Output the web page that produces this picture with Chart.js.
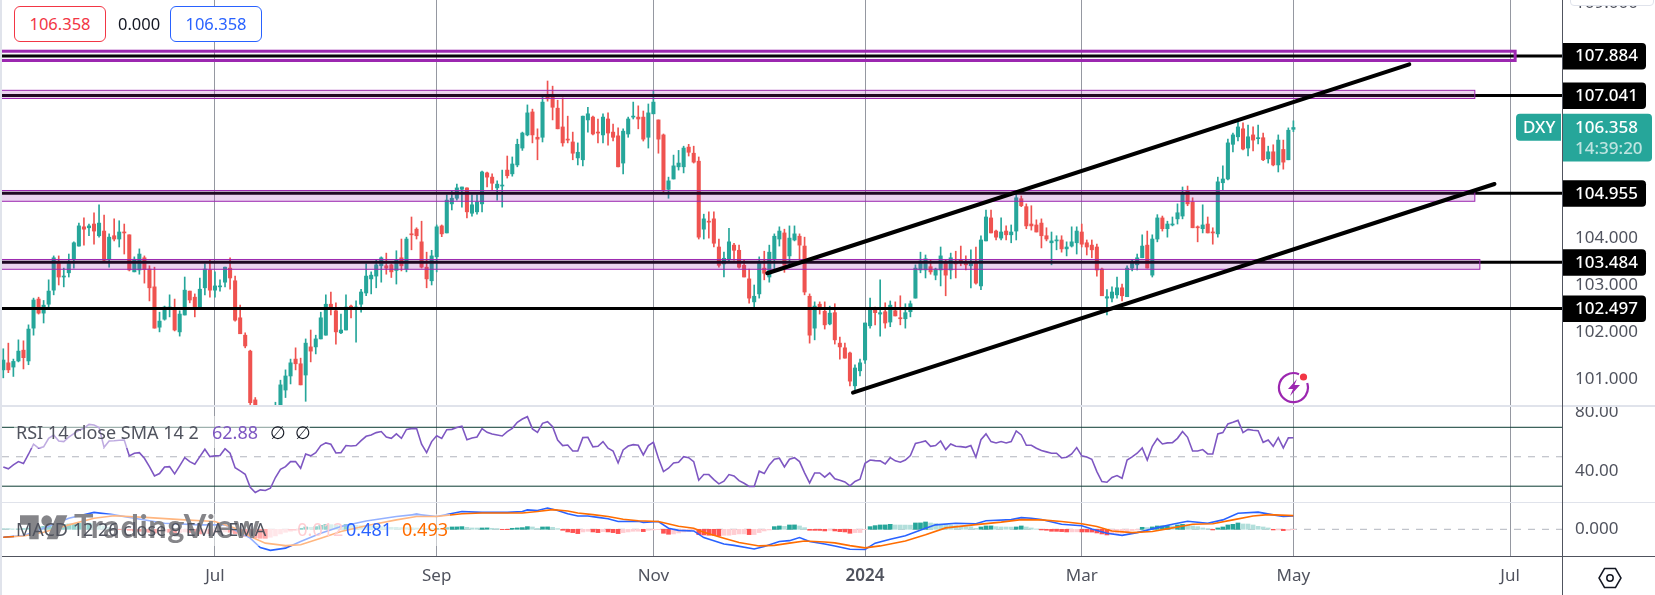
<!DOCTYPE html>
<html>
<head>
<meta charset="utf-8">
<script src="https://cdn.jsdelivr.net/npm/chart.js@4"></script>
<style>
  html, body { margin: 0; padding: 0; background: #fff; overflow: hidden; }
  body { width: 1655px; height: 595px; position: relative; font-family: "Noto Sans", sans-serif; }
  canvas { position: absolute; left: 0; }
  .abs { position: absolute; white-space: nowrap; }
  .pill { box-sizing: border-box; height: 36px; width: 92px; top: 6px; border: 1px solid; border-radius: 6px;
          font-size: 16.5px; line-height: 34px; text-align: center; background: #fff; }
  .legend { font-size: 18px; line-height: 24px; color: #50535e; }
</style>
</head>
<body>
<canvas id="macdChart" style="top:497px"></canvas>
<canvas id="rsiChart" style="top:400px"></canvas>
<canvas id="priceChart" style="top:0"></canvas>

<div class="abs" style="left:0;top:0;width:2px;height:595px;background:#e0e3eb"></div>
<div class="abs" style="left:0;top:405px;width:1655px;height:2px;background:#e0e3eb"></div>
<div class="abs" style="left:0;top:502px;width:1655px;height:1px;background:#e0e3eb"></div>
<div class="abs" style="left:2px;top:556px;width:1653px;height:1px;background:#50535e"></div>
<div class="abs" style="left:1562px;top:0;width:1px;height:595px;background:#50535e"></div>

<!-- header pills -->
<div class="abs pill" style="left:14px;color:#f23645;border-color:#f23645">106.358</div>
<div class="abs" style="left:118px;top:12px;font-size:16.5px;line-height:24px;color:#131722">0.000</div>
<div class="abs pill" style="left:170px;color:#2962ff;border-color:#2962ff">106.358</div>

<!-- cut off price label box, top right -->
<div class="abs" style="left:1570px;top:-6px;width:82px;height:10px;background:#fff;border:1px solid #e0e3eb;border-radius:4px"></div>

<!-- alert icon -->
<svg class="abs" style="left:1277px;top:370px" width="34" height="34" viewBox="0 0 34 34">
  <path d="M22 4.2A14.5 14.5 0 1 0 30.2 13" fill="none" stroke="#9c27b0" stroke-width="2.2"/>
  <path d="M20 9 L11 19 L16 19 L13 26 L23 15 L17.5 15 Z" fill="#9c27b0"/>
  <circle cx="26.5" cy="7" r="3.6" fill="#f23645"/>
</svg>

<!-- settings icon -->
<svg class="abs" style="left:1598px;top:567px" width="24" height="22" viewBox="0 0 24 22">
  <path d="M6.5 1.5H17.5L23 11L17.5 20.5H6.5L1 11Z" fill="none" stroke="#131722" stroke-width="1.5"/>
  <circle cx="12" cy="11" r="3.2" fill="none" stroke="#131722" stroke-width="1.5"/>
</svg>

<!-- fade behind the pane legends -->
<div class="abs" style="left:14px;top:416px;width:296px;height:32px;background:rgba(255,255,255,.5)"></div>
<div class="abs" style="left:14px;top:514px;width:436px;height:32px;background:rgba(255,255,255,.5)"></div>

<!-- watermark -->
<svg class="abs" style="left:20px;top:510px" width="48" height="36" viewBox="0 0 36 27">
  <path d="M14 22H7V11H0V4h14v18z M28 22h-8l7.5-18h8L28 22z" fill="#858589"/>
  <circle cx="20" cy="8" r="4" fill="#858589"/>
</svg>
<div class="abs" style="left:74px;top:504px;font:700 32.5px/44px Lato,sans-serif;color:#858589;letter-spacing:.6px">TradingView</div>

<!-- pane legends -->
<div class="abs legend" style="left:16px;top:420px">RSI 14 close SMA 14 2</div>
<div class="abs legend" style="left:212px;top:420px;color:#7e57c2">62.88</div>
<div class="abs legend" style="left:270px;top:420px;color:#131722">∅&nbsp;&nbsp;∅</div>
<div class="abs legend" style="left:16px;top:517px">MACD 12 26 close 9 EMA EMA</div>
<div class="abs legend" style="left:287px;top:517px;color:#ffcdd2">−0.012</div>
<div class="abs legend" style="left:346px;top:517px;color:#2962ff">0.481</div>
<div class="abs legend" style="left:402px;top:517px;color:#ff6d00">0.493</div>

<script>
// candles
const opens = [101.19,101.34,101.25,101.38,101.61,101.38,102.08,102.70,102.40,102.59,
  102.89,103.46,103.17,103.26,103.55,103.83,104.24,104.22,104.30,104.05,
  104.15,103.55,104.05,103.98,104.13,104.07,103.28,103.32,103.58,103.34,
  102.96,102.10,102.27,102.51,102.51,102.00,102.36,102.87,102.74,102.51,
  102.94,103.32,102.89,102.96,103.06,103.36,103.09,102.30,101.93,101.59,
  100.55,100.15,100.10,100.25,100.20,100.42,100.76,101.06,101.42,101.32,
  101.08,101.68,101.68,101.85,101.93,102.59,102.45,101.98,102.04,102.55,
  102.51,102.59,102.83,103.13,103.19,103.41,103.41,103.43,103.31,103.58,
  103.34,104.09,104.19,103.92,103.38,103.09,103.60,104.26,104.11,104.73,
  104.85,105.04,105.07,104.53,104.56,104.73,105.39,105.30,105.07,105.11,
  105.45,105.37,105.56,105.92,106.20,106.69,106.15,106.15,107.01,107.01,
  106.77,106.37,106.11,106.05,105.71,105.67,106.52,106.58,106.26,106.20,
  106.54,106.26,106.18,105.60,106.22,106.58,106.58,106.58,106.15,106.65,
  106.52,106.20,105.04,105.26,105.52,105.52,105.94,105.81,105.64,104.19,
  104.36,104.41,103.81,103.45,103.55,103.85,103.74,103.42,103.13,102.64,
  102.81,103.36,103.17,103.55,103.98,104.11,103.62,103.96,104.04,103.83,
  102.76,102.08,102.59,102.44,102.17,102.41,101.76,101.66,101.55,100.85,
  101.17,101.40,102.13,102.47,102.38,102.43,102.21,102.45,102.30,102.28,
  102.43,102.72,103.32,103.32,103.39,103.21,103.32,103.47,103.32,103.47,
  103.53,103.47,103.41,103.47,102.98,103.94,104.43,104.15,104.00,104.15,
  104.07,104.15,104.84,104.67,104.30,104.28,104.32,104.05,103.90,103.94,
  103.96,103.77,103.83,103.90,104.13,103.90,103.85,103.81,103.34,102.72,
  102.72,102.79,102.94,102.75,103.36,103.43,103.58,103.85,103.21,103.98,
  104.43,104.20,104.28,104.41,104.47,105.00,104.77,104.24,104.20,104.30,
  104.13,104.09,105.18,105.26,106.00,106.16,106.33,105.92,106.20,106.12,
  106.14,105.69,105.84,105.56,105.89,105.67,106.32];
const highs = [101.64,101.76,101.42,101.83,101.81,102.15,102.72,102.74,102.67,103.11,
  103.62,103.62,103.36,103.66,103.92,104.32,104.43,104.30,104.54,104.71,
  104.49,104.09,104.41,104.37,104.30,104.07,103.60,103.77,103.62,103.41,
  103.38,102.42,102.55,102.79,102.70,102.45,103.17,102.87,102.81,103.15,
  103.45,103.53,103.28,103.11,103.38,103.58,103.19,102.57,101.98,101.61,
  100.60,100.30,100.35,100.40,100.50,100.97,101.19,101.42,101.66,101.44,
  101.85,102.04,101.93,102.42,102.79,102.85,102.62,102.38,102.79,102.57,
  102.66,102.91,103.45,103.28,103.53,103.60,103.68,103.45,103.73,103.98,
  104.02,104.45,104.22,104.36,103.70,103.74,104.28,104.28,104.92,105.00,
  105.15,105.09,105.07,104.92,104.92,105.43,105.41,105.37,105.22,105.45,
  105.75,105.73,106.11,106.26,106.84,106.75,106.33,107.01,107.35,107.24,
  106.94,106.99,106.60,106.26,106.03,106.60,106.79,106.60,106.54,106.65,
  106.67,106.43,106.35,106.33,106.58,106.90,106.82,106.71,106.86,107.14,
  106.52,106.22,105.30,105.77,105.87,105.96,106.00,105.96,105.73,104.51,
  104.56,104.56,103.98,103.70,104.21,103.89,103.85,103.53,103.34,103.00,
  103.60,103.72,103.85,104.09,104.24,104.19,104.26,104.26,104.09,104.02,
  102.81,102.64,102.64,102.64,102.55,102.60,101.89,101.76,101.57,101.30,
  101.42,102.19,102.72,102.53,103.11,102.62,102.66,102.64,102.77,102.60,
  102.66,103.43,103.70,103.64,103.53,103.36,103.81,103.53,103.68,103.72,
  103.83,103.62,103.75,103.81,104.05,104.60,104.60,104.17,104.43,104.26,
  104.28,104.94,104.90,104.73,104.69,104.39,104.41,104.22,104.13,104.05,
  104.05,103.92,104.24,104.24,104.30,103.96,103.96,103.87,103.36,102.90,
  102.96,103.17,103.02,103.41,103.53,103.66,104.07,104.15,104.07,104.50,
  104.47,104.36,104.45,104.73,105.09,105.11,104.86,104.26,104.71,104.45,
  104.22,105.30,105.54,106.11,106.24,106.47,106.46,106.41,106.37,106.41,
  106.24,105.96,105.99,106.20,106.09,106.35,106.50];
const lows = [101.02,101.13,101.05,101.36,101.21,101.30,101.93,102.38,102.19,102.53,
  102.79,103.00,102.96,103.17,103.36,103.83,103.85,104.05,103.87,104.02,
  103.51,103.38,103.94,103.81,103.66,103.30,103.28,103.23,103.04,102.66,
  102.08,102.00,102.25,102.32,102.02,101.91,102.36,102.62,102.32,102.51,
  102.79,102.74,102.74,102.87,102.96,102.91,102.23,101.96,101.66,100.45,
  100.05,99.95,99.95,100.00,100.05,100.35,100.60,100.89,101.19,100.87,
  100.52,101.36,101.53,101.85,101.93,102.36,101.74,101.96,102.04,102.30,
  101.78,102.42,102.77,102.81,102.94,103.06,103.23,103.16,103.02,103.30,
  103.28,103.75,103.98,103.36,102.94,103.00,103.28,104.03,104.11,104.60,
  104.81,104.66,104.43,104.47,104.51,104.56,105.09,105.02,104.81,104.66,
  105.28,105.32,105.52,105.87,106.18,106.03,105.67,106.05,106.92,106.52,
  106.33,105.96,106.03,105.67,105.56,105.54,106.26,106.20,106.03,106.03,
  105.98,106.07,105.52,105.37,106.15,106.54,106.33,106.07,105.92,106.65,
  105.81,104.98,104.85,105.26,105.45,105.39,105.75,105.60,103.98,103.98,
  104.00,103.81,103.38,103.17,103.51,103.53,103.36,103.17,102.61,102.51,
  102.72,103.11,103.06,103.32,103.83,103.27,103.42,103.94,103.53,102.79,
  101.76,101.83,102.38,102.06,102.15,101.74,101.42,101.44,100.85,100.76,
  101.06,101.33,102.08,102.15,101.91,102.08,102.11,102.34,102.15,102.08,
  102.32,102.72,103.26,103.15,103.23,103.11,102.98,102.77,103.13,103.15,
  103.41,103.32,102.94,103.02,102.90,103.94,104.11,103.96,103.96,103.96,
  103.90,103.96,104.67,104.20,104.17,104.13,103.79,103.94,103.43,103.75,
  103.70,103.62,103.81,103.66,103.81,103.64,103.58,103.19,102.77,102.36,
  102.64,102.72,102.66,102.75,103.30,103.32,103.58,103.36,103.17,103.92,
  104.15,104.02,104.26,104.30,104.41,104.69,104.22,103.92,104.11,104.11,
  103.87,104.02,105.03,105.24,105.84,106.07,105.88,105.75,105.86,106.01,
  105.65,105.60,105.54,105.41,105.47,105.67,106.27];
const closes = [101.40,101.19,101.37,101.59,101.45,102.06,102.68,102.40,102.57,102.87,
  103.58,103.17,103.19,103.46,103.90,104.26,104.19,104.26,104.15,104.32,
  103.53,104.02,103.98,104.13,104.11,103.32,103.55,103.66,103.33,102.94,
  102.08,102.23,102.53,102.53,102.04,102.38,102.89,102.68,102.51,102.91,
  103.34,102.89,102.98,102.98,103.38,103.15,102.25,101.96,101.70,100.49,
  100.15,100.10,100.25,100.15,100.42,100.87,101.06,101.34,101.32,100.87,
  101.76,101.59,101.85,102.30,102.59,102.53,102.00,102.04,102.53,102.51,
  102.53,102.85,103.19,103.21,103.43,103.58,103.36,103.28,103.53,103.41,
  103.98,104.07,104.05,103.38,103.13,103.62,104.24,104.09,104.81,104.85,
  105.07,105.09,104.56,104.71,104.77,105.41,105.30,105.17,105.15,105.13,
  105.33,105.58,106.00,106.24,106.67,106.20,106.11,106.90,106.97,106.79,
  106.33,106.03,106.09,105.81,105.83,106.60,106.65,106.22,106.24,106.58,
  106.24,106.15,105.52,106.28,106.54,106.60,106.54,106.11,106.67,106.90,
  106.11,105.02,105.22,105.54,105.60,105.92,105.83,105.62,104.02,104.41,
  104.34,103.89,103.42,103.57,103.92,103.74,103.38,103.17,102.72,102.76,
  103.47,103.25,103.70,104.04,104.15,103.42,104.00,104.09,103.85,102.85,
  101.93,102.55,102.53,102.15,102.40,101.83,101.68,101.44,100.95,101.23,
  101.34,102.19,102.47,102.41,102.41,102.19,102.57,102.34,102.28,102.41,
  102.60,103.36,103.51,103.56,103.28,103.34,103.62,103.21,103.58,103.45,
  103.47,103.43,103.47,103.04,103.96,104.45,104.11,104.02,104.13,104.07,
  104.13,104.86,104.69,104.26,104.26,104.13,104.05,103.98,103.94,103.96,
  103.77,103.81,103.92,104.15,103.87,103.81,103.75,103.32,102.77,102.75,
  102.85,102.94,102.77,103.36,103.47,103.58,103.83,103.36,103.98,104.43,
  104.20,104.30,104.30,104.54,104.94,104.73,104.22,104.22,104.28,104.11,
  104.11,105.20,105.26,106.03,106.20,106.37,105.90,106.16,106.09,106.14,
  105.67,105.84,105.56,106.09,105.62,106.30,106.358];

const rsiValues = [43.1,41.8,44.5,46.7,45.4,51.7,58.5,55.8,56.7,62.5,64.8,60.7,60.3,63.4,65.7,68.0,69.3,72.0,71.6,69.8,
  56.4,60.7,60.9,61.2,61.4,50.6,52.4,52.8,49.0,43.3,37.0,38.6,43.1,43.3,38.4,43.8,49.4,46.7,44.9,50.1,
  55.1,50.1,50.6,50.8,55.5,52.4,42.6,40.4,38.1,29.3,25.7,27.5,27.1,28.6,35.9,41.5,43.3,46.7,46.7,42.2,
  51.9,50.6,52.8,57.6,59.4,58.5,52.6,52.8,57.6,57.3,57.6,60.9,63.9,64.8,66.4,67.1,63.4,62.5,65.5,62.5,
  68.6,69.1,69.3,58.5,52.8,60.3,64.3,62.5,68.4,68.6,69.8,70.7,61.6,62.8,63.4,69.1,66.6,65.5,64.8,64.1,
  67.1,69.3,73.4,75.6,77.2,68.9,66.6,72.7,73.8,70.4,61.4,57.6,58.0,53.9,53.9,63.0,63.2,56.7,57.1,60.3,
  55.8,53.9,45.8,54.6,57.3,58.2,57.8,51.2,57.6,59.8,49.0,39.9,42.2,45.8,46.3,50.1,49.4,46.7,34.1,37.9,
  37.9,34.5,31.6,33.4,37.9,37.0,33.8,32.0,29.8,29.8,40.2,38.6,44.5,48.3,49.0,43.1,48.3,49.4,46.7,39.0,
  32.2,39.0,39.0,36.1,39.0,35.0,34.1,32.9,30.2,33.2,34.7,45.6,47.8,47.4,47.2,45.1,49.4,47.2,46.3,47.8,
  50.8,59.1,59.8,60.7,57.1,57.6,60.7,54.9,58.7,57.1,56.9,56.4,57.6,49.7,61.6,65.5,60.3,59.4,60.3,59.4,
  60.3,67.5,64.8,57.8,57.8,55.8,54.2,53.3,52.4,52.4,49.2,49.7,51.9,56.2,50.6,49.9,48.3,39.9,33.2,32.7,
  35.9,37.2,35.4,47.8,49.9,52.4,56.0,47.8,57.1,62.3,58.7,59.4,59.6,62.5,67.1,63.2,53.9,53.9,54.9,51.9,
  51.9,65.5,66.4,72.3,73.4,74.7,66.4,68.6,68.0,67.7,59.8,61.4,57.1,63.0,56.0,62.8,62.88];
const rsiBands = [70, 50, 30];

// MACD lines, read at the bars where the curve bends
const macdBars = [0,4,8,13,18,22,26,32,39,44,49,51,53,56,59,63,67,72,78,82,86,91,95,100,103,
  104,106,108,110,112,114,116,118,120,122,126,127,130,132,134,137,139,143,145,149,151,154,156,158,160,163,165,168,171,173,176,179,183,185,189,193,195,200,202,204,206,
  210,214,216,219,222,225,229,232,235,239,242,245,249,252,254,256];
const macdValues = [-.29,-.23,.04,.40,.61,.52,.40,.22,.16,.16,-.32,-.66,-.76,-.68,-.44,-.14,.10,.30,.46,.54,.46,.64,.61,.61,.64,
  .70,.68,.77,.68,.56,.48,.48,.43,.38,.28,.29,.25,.28,.04,-.04,-.06,-.30,-.53,-.58,-.71,-.62,-.44,-.41,-.30,-.44,-.53,-.60,-.72,-.73,-.50,-.36,-.23,.04,.16,.22,.20,.31,.35,.42,.40,.35,
  .18,.13,.01,-.14,-.22,-.12,.06,.18,.29,.22,.34,.58,.62,.52,.46,.481];
const signalBars = [0,4,8,13,18,22,29,36,42,46,49,52,56,59,63,67,72,78,82,86,91,95,100,
  103,106,109,112,114,117,120,123,126,130,134,137,139,143,146,150,153,156,159,163,165,168,171,174,179,183,187,193,198,202,206,
  210,214,217,220,224,228,232,236,240,244,248,251,256];
const signalValues = [-.29,-.24,-.11,.16,.40,.49,.42,.34,.28,.04,-.26,-.50,-.59,-.56,-.32,-.08,.13,.34,.46,.46,.56,.59,.59,
  .59,.64,.71,.66,.59,.53,.46,.36,.31,.28,.11,.04,-.11,-.32,-.48,-.60,-.58,-.50,-.42,-.46,-.49,-.59,-.67,-.60,-.42,-.20,.05,.17,.26,.35,.34,
  .28,.20,.10,-.06,-.12,-.08,.05,.18,.20,.34,.48,.53,.493];
const histValues = [.024,.022,.012,.014,.024,.048,.072,.084,.108,.120,.144,.168,.180,.192,.204,.216,.218,.220,.204,.168,
  .120,.072,.036,-.012,-.024,-.036,-.060,-.072,-.084,-.108,-.132,-.108,-.096,-.108,-.132,-.120,-.096,-.120,-.156,-.168,
  -.144,-.156,-.132,-.108,-.096,-.108,-.156,-.204,-.252,-.288,-.312,-.324,-.326,-.288,-.240,-.168,-.108,-.072,-.036,.036,
  .084,.072,.096,.144,.180,.168,.156,.144,.180,.168,.144,.132,.120,.108,.106,.096,.084,.072,.070,.060,
  .058,.054,.048,.036,.024,.022,.036,.024,.060,.084,.086,.096,.072,.048,.046,.048,.050,.036,.024,-.012,
  -.014,.036,.048,.060,.096,.084,.036,.084,.086,.072,.024,-.036,-.096,-.120,-.156,-.096,-.072,-.096,-.120,-.084,
  -.096,-.120,-.156,-.120,-.096,-.072,-.070,-.084,-.036,-.024,-.012,-.144,-.180,-.168,-.132,-.096,-.084,-.036,-.192,-.204,
  -.216,-.218,-.240,-.216,-.214,-.192,-.168,-.166,-.192,-.190,-.120,-.060,-.024,.096,.120,.108,.156,.158,.120,.060,
  -.036,-.038,-.040,-.060,-.036,-.060,-.084,-.096,-.144,-.120,-.118,-.012,.096,.132,.156,.158,.180,.156,.154,.152,
  .150,.228,.230,.264,.228,.204,.180,.168,.156,.132,.096,.094,.092,.036,.084,.120,.122,.096,.084,.082,
  .080,.084,.120,.084,.048,.012,-.024,-.036,-.072,-.074,-.084,-.096,-.094,-.092,-.096,-.098,-.100,-.132,-.168,-.204,
  -.168,-.144,-.142,-.120,-.048,-.024,.072,.060,.084,.120,.122,.124,.120,.156,.180,.156,.120,.096,.048,.024,
  -.024,.048,.084,.156,.180,.228,.192,.190,.156,.108,.084,.048,-.024,-.022,-.048,-.036,-.012];

// horizontal levels, zones and trend lines drawn on the chart
const levels = [107.884, 107.041, 104.955, 103.484, 102.497];
const zoneTops = [107.985, 107.151, 105.015, 103.544];
const zoneBottoms = [107.787, 106.977, 104.785, 103.335];
const zoneEnds = [300, 292, 292, 293];
const trendBars = [[151.6, 279], [168.6, 295.9]];
const trendPrices = [[103.25, 107.706], [100.706, 105.154]];

// axis
const monthBars = [42, 86, 129, 171, 214, 256, 299];
const monthLabels = ["Jul", "Sep", "Nov", "2024", "Mar", "May", "Jul"];
const priceTicks = [101, 102, 103, 104, 105, 106, 107, 108, 109];
const rsiTicks = [80, 40];
const macdTicks = [0];

const X_MIN = -0.258, X_MAX = 309.3;
const FONT = '"Noto Sans", sans-serif';
const GREEN = "#26a69a", RED = "#ef5350";
const TICK_COLOR = "#50535e";
const bars = closes.map((c, i) => i);
const candleColor = closes.map((c, i) => (c >= opens[i] ? GREEN : RED));
const points = (xs, ys) => xs.map((x, i) => ({ x: x, y: ys[i] }));
const flat = (y) => [{ x: X_MIN, y: y }, { x: X_MAX, y: y }];

// chart.js pads the plot by half a label + tick padding, the panes need the exact area
function noPadding(scale) {
  scale.paddingTop = 0;
  scale.paddingBottom = 0;
  scale.paddingLeft = 0;
  scale.paddingRight = 0;
}

function xScale(axisHeight, showLabels) {
  return {
    type: "linear",
    min: X_MIN,
    max: X_MAX,
    offset: false,
    afterBuildTicks(scale) {
      scale.ticks = monthBars.map((v) => ({ value: v }));
    },
    afterFit(scale) {
      scale.height = axisHeight;
      noPadding(scale);
    },
    grid: { color: "#9598a1", offset: false, drawTicks: false, lineWidth: 1 },
    border: { display: false },
    ticks: {
      display: showLabels,
      autoSkip: false,
      maxRotation: 0,
      padding: 10,
      color: TICK_COLOR,
      font: (ctx) => ({
        family: FONT,
        size: 17,
        weight: ctx.tick && ctx.tick.label === "2024" ? "600" : "400",
      }),
      callback: (v) => monthLabels[monthBars.indexOf(v)],
    },
  };
}

function yScale(min, max, tickValues, digits) {
  return {
    position: "right",
    min: min,
    max: max,
    afterBuildTicks(scale) {
      scale.ticks = tickValues.map((v) => ({ value: v }));
    },
    afterFit(scale) {
      scale.width = 93;
      noPadding(scale);
    },
    grid: { display: false, drawTicks: false },
    border: { display: false },
    ticks: {
      autoSkip: false,
      padding: 13,
      color: TICK_COLOR,
      font: { family: FONT, size: 17 },
      callback: (v) => v.toFixed(digits),
    },
  };
}

function baseOptions(top, scales) {
  return {
    responsive: false,
    animation: false,
    devicePixelRatio: 1,
    layout: { padding: { left: 2, top: top, right: 0, bottom: 0 } },
    plugins: { legend: { display: false }, tooltip: { enabled: false } },
    scales: scales,
  };
}

function roundTag(ctx, x, y, w, h, r, color) {
  ctx.beginPath();
  ctx.roundRect(x, y, w, h, r);
  ctx.fillStyle = color;
  ctx.fill();
}

// zones go under the trend lines but over the candles and levels
const zonePlugin = {
  id: "zones",
  beforeDatasetDraw(chart, args) {
    if (chart.data.datasets[args.index].label !== "trend0") return;
    const ctx = chart.ctx, xs = chart.scales.x, ys = chart.scales.y;
    ctx.save();
    zoneTops.forEach((top, i) => {
      const y1 = ys.getPixelForValue(top);
      const y2 = ys.getPixelForValue(zoneBottoms[i]);
      const x1 = xs.left - 4;
      const x2 = xs.getPixelForValue(zoneEnds[i]);
      ctx.fillStyle = i === 0 ? "rgba(156,39,176,.04)" : "rgba(156,39,176,.2)";
      ctx.fillRect(x1, y1, x2 - x1, y2 - y1);
      ctx.strokeStyle = "#9c27b0";
      ctx.lineWidth = i === 0 ? 3 : 1;
      ctx.strokeRect(x1, y1, x2 - x1, y2 - y1);
    });
    ctx.restore();
  },
};

// price tags on the right axis
const tagPlugin = {
  id: "tags",
  afterDraw(chart) {
    const ctx = chart.ctx, ys = chart.scales.y;
    ctx.save();
    ctx.beginPath();
    ctx.rect(0, 0, 1655, 405);
    ctx.clip();
    ctx.textBaseline = "middle";
    levels.forEach((v) => {
      const y = ys.getPixelForValue(v);
      roundTag(ctx, 1563, y - 13, 83, 26.5, [0, 4, 4, 0], "#000");
      ctx.fillStyle = "#fff";
      ctx.font = '500 17px ' + FONT;
      ctx.fillText(v.toFixed(3), 1575, y + 0.5);
    });
    const last = closes[closes.length - 1];
    const y = ys.getPixelForValue(last);
    roundTag(ctx, 1563, y - 13.7, 89, 47.7, [0, 4, 4, 0], GREEN);
    roundTag(ctx, 1516, y - 13.7, 45, 27, [4, 0, 0, 4], GREEN);
    ctx.fillStyle = "#fff";
    ctx.font = '500 17px ' + FONT;
    ctx.fillText(last.toFixed(3), 1575, y + 0.5);
    ctx.fillText("DXY", 1523, y + 0.5);
    ctx.fillStyle = "rgba(255,255,255,.7)";
    ctx.fillText("14:39:20", 1575, y + 21.5);
    ctx.restore();
  },
};

const priceCanvas = document.getElementById("priceChart");
priceCanvas.width = 1655;
priceCanvas.height = 405;
new Chart(priceCanvas, {
  type: "bar",
  data: {
    datasets: [
      {
        label: "wicks",
        data: bars.map((i) => ({ x: i, y: [lows[i], highs[i]] })),
        backgroundColor: candleColor,
        barThickness: 1,
        grouped: false,
        order: 6,
      },
      {
        label: "bodies",
        data: bars.map((i) => ({ x: i, y: [opens[i], closes[i]] })),
        backgroundColor: candleColor,
        barThickness: 3.4,
        minBarLength: 1,
        grouped: false,
        order: 5,
      },
      ...levels.map((v) => ({
        type: "line",
        label: "level",
        data: flat(v),
        borderColor: "#000",
        borderWidth: 3,
        pointRadius: 0,
        order: 3,
      })),
      ...trendBars.map((xs, i) => ({
        type: "line",
        label: "trend" + i,
        data: points(xs, trendPrices[i]),
        borderColor: "#000",
        borderWidth: 4,
        borderCapStyle: "round",
        pointRadius: 0,
        order: 1 - i * 0.1,
      })),
    ],
  },
  options: baseOptions(0, {
    x: xScale(0, false),
    y: yScale(100.441, 109.077, priceTicks, 3),
  }),
  plugins: [zonePlugin, tagPlugin],
});

const rsiCanvas = document.getElementById("rsiChart");
rsiCanvas.width = 1655;
rsiCanvas.height = 102;
new Chart(rsiCanvas, {
  type: "line",
  data: {
    datasets: [
      {
        label: "RSI",
        data: points(bars, rsiValues),
        borderColor: "#7e57c2",
        borderWidth: 1.6,
        pointRadius: 0,
        order: 1,
      },
      ...rsiBands.map((v) => ({
        label: "band",
        data: flat(v),
        borderColor: v === 50 ? "#b2b5be" : "#0b3b32",
        borderWidth: 1,
        borderDash: v === 50 ? [7, 7] : [],
        pointRadius: 0,
        order: 2,
      })),
    ],
  },
  options: baseOptions(6, {
    x: xScale(0, false),
    y: yScale(19.27, 84.47, rsiTicks, 2),
  }),
});

const macdCanvas = document.getElementById("macdChart");
macdCanvas.width = 1655;
macdCanvas.height = 98;
new Chart(macdCanvas, {
  type: "bar",
  data: {
    datasets: [
      {
        label: "Histogram",
        data: points(bars, histValues),
        backgroundColor: histValues.map((v, i) => {
          const rising = i === 0 ? false : v > histValues[i - 1];
          if (v >= 0) return rising ? GREEN : "#b2dfdb";
          return rising ? "#ffcdd2" : "#ff5252";
        }),
        barThickness: 4,
        order: 3,
      },
      {
        type: "line",
        label: "zero",
        data: flat(0),
        borderColor: "#b2b5be",
        borderWidth: 1,
        borderDash: [7, 7],
        pointRadius: 0,
        order: 4,
      },
      {
        type: "line",
        label: "Signal",
        data: points(signalBars, signalValues),
        borderColor: "#ff6d00",
        borderWidth: 1.6,
        pointRadius: 0,
        order: 1,
      },
      {
        type: "line",
        label: "MACD",
        data: points(macdBars, macdValues),
        borderColor: "#2962ff",
        borderWidth: 1.6,
        pointRadius: 0,
        order: 2,
      },
    ],
  },
  options: baseOptions(6, {
    x: xScale(39, true),
    y: yScale(-0.964, 0.949, macdTicks, 3),
  }),
});
</script>
</body>
</html>
